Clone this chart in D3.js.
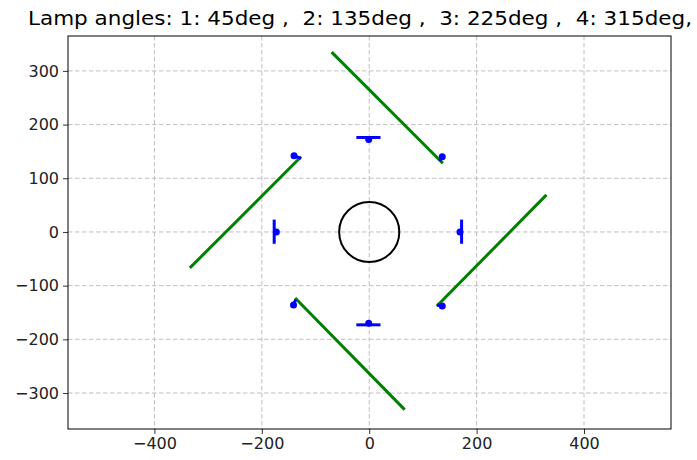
<!DOCTYPE html>
<html><head><meta charset="utf-8">
<script src="https://cdn.jsdelivr.net/npm/d3@7"></script>
<style>body{margin:0;background:#fff}svg{display:block}text{font-family:"DejaVu Sans",sans-serif}</style>
</head><body><svg id="c" width="697" height="460"></svg>
<script>
const title = "Lamp angles: 1: 45deg ,  2: 135deg ,  3: 225deg ,  4: 315deg,";
const xTicks = [-400, -200, 0, 200, 400];
const yTicks = [-300, -200, -100, 0, 100, 200, 300];
const xDomain = [-561, 562];
const yDomain = [-367, 365];
// central circle
const circleCenter = [0, 0];
const circleRadius = 56;
// axis-aligned lamp bars: [x1,y1,x2,y2]
const lampBars = [
  [-24, 176, 21, 176],
  [-177, 23, -177, -22],
  [-24, -173, 21, -173],
  [172, 23, 172, -22]
];
// lamp dots [x,y]
const lampDots = [
  [-1, 172], [-173, 0], [-1, -170], [169, 0],
  [-140, 142], [136, 140], [-141, -136], [136, -138]
];
// short diagonal lamp stubs
const lampStubs = [
  [-140, 142, -127, 137],
  [136, 140, 131, 132],
  [-141, -136, -137, -126],
  [136, -138, 126, -136]
];
// green beams [x1,y1,x2,y2]
const beams = [
  [-127, 140, -334, -67],
  [137, 128, -70, 335],
  [126, -138, 330, 69],
  [-138, -123, 66, -331]
];

const svg = d3.select("#c");
const m = {l: 68, r: 671, t: 36, b: 429};
const x = d3.scaleLinear().domain(xDomain).range([m.l, m.r]);
const y = d3.scaleLinear().domain(yDomain).range([m.b, m.t]);

// grid
const g = svg.append("g");
g.selectAll(".gx").data(xTicks).join("line")
  .attr("x1", d => x(d)).attr("x2", d => x(d)).attr("y1", m.t).attr("y2", m.b)
  .attr("stroke", "#b0b0b0").attr("stroke-width", 0.8).attr("stroke-dasharray", "4.5,2.5");
g.selectAll(".gy").data(yTicks).join("line")
  .attr("y1", d => y(d)).attr("y2", d => y(d)).attr("x1", m.l).attr("x2", m.r)
  .attr("stroke", "#b0b0b0").attr("stroke-width", 0.8).attr("stroke-dasharray", "4.5,2.5");

// axes
const fmt = d => d < 0 ? "\u2212" + Math.abs(d) : d;
const xa = svg.append("g").attr("transform", `translate(0,${m.b})`)
  .call(d3.axisBottom(x).tickValues(xTicks).tickSize(5).tickPadding(4).tickFormat(fmt));
const ya = svg.append("g").attr("transform", `translate(${m.l},0)`)
  .call(d3.axisLeft(y).tickValues(yTicks).tickSize(5).tickPadding(4).tickFormat(fmt));
[xa, ya].forEach(a => {
  a.select(".domain").remove();
  a.selectAll("text").attr("font-family", "DejaVu Sans").attr("font-size", 16).attr("fill", "#222");
  a.selectAll("line").attr("stroke", "#000").attr("stroke-width", 0.8);
});

// circle
svg.append("circle").attr("cx", x(circleCenter[0])).attr("cy", y(circleCenter[1]))
  .attr("r", x(circleRadius) - x(0)).attr("fill", "none").attr("stroke", "#000").attr("stroke-width", 2);

// beams
svg.selectAll(".beam").data(beams).join("line")
  .attr("x1", d => x(d[0])).attr("y1", d => y(d[1])).attr("x2", d => x(d[2])).attr("y2", d => y(d[3]))
  .attr("stroke", "#008000").attr("stroke-width", 3);

// lamps
svg.selectAll(".bar").data(lampBars).join("line")
  .attr("x1", d => x(d[0])).attr("y1", d => y(d[1])).attr("x2", d => x(d[2])).attr("y2", d => y(d[3]))
  .attr("stroke", "#0000ff").attr("stroke-width", 3);
svg.selectAll(".stub").data(lampStubs).join("line")
  .attr("x1", d => x(d[0])).attr("y1", d => y(d[1])).attr("x2", d => x(d[2])).attr("y2", d => y(d[3]))
  .attr("stroke", "#0000ff").attr("stroke-width", 3);
svg.selectAll(".dot").data(lampDots).join("circle")
  .attr("cx", d => x(d[0])).attr("cy", d => y(d[1])).attr("r", 3.5).attr("fill", "#0000ff");

// frame
svg.append("rect").attr("x", m.l).attr("y", m.t).attr("width", m.r - m.l).attr("height", m.b - m.t)
  .attr("fill", "none").attr("stroke", "#000").attr("stroke-width", 1);

// title
svg.append("text").attr("x", 360).attr("y", 25).attr("text-anchor", "middle")
  .attr("font-size", 20).attr("textLength", 664).attr("lengthAdjust", "spacingAndGlyphs")
  .attr("fill", "#000").style("white-space", "pre").text(title);
</script></body></html>
